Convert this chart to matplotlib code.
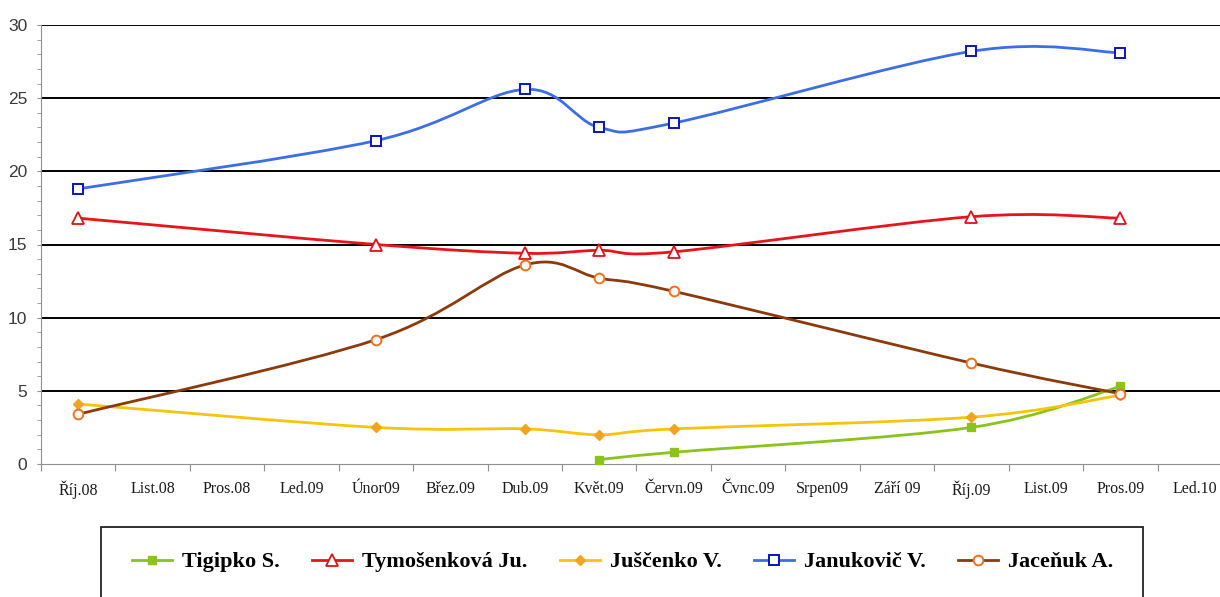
import numpy as np
import matplotlib.pyplot as plt
from matplotlib.path import Path
from matplotlib.patches import PathPatch, Rectangle
from matplotlib.lines import Line2D

months = ['Říj.08', 'List.08', 'Pros.08', 'Led.09', 'Únor09', 'Břez.09', 'Dub.09',
          'Květ.09', 'Červn.09', 'Čvnc.09', 'Srpen09', 'Září 09', 'Říj.09', 'List.09',
          'Pros.09', 'Led.10']

# survey months (index into months)
poll_idx = [0, 4, 6, 7, 8, 12, 14]
tigipko_idx = [7, 8, 12, 14]

tigipko = [0.3, 0.8, 2.5, 5.3]
tymosenkova = [16.8, 15.0, 14.4, 14.6, 14.5, 16.9, 16.8]
juscenko = [4.1, 2.5, 2.4, 2.0, 2.4, 3.2, 4.7]
janukovic = [18.8, 22.1, 25.6, 23.0, 23.3, 28.2, 28.1]
jacenuk = [3.4, 8.5, 13.6, 12.7, 11.8, 6.9, 4.8]


def smooth_path(x, y):
    # excel-like smoothed line: cubic bezier, tangent = (next - prev) / 6
    p = np.column_stack([x, y]).astype(float)
    n = len(p)
    verts = [p[0]]
    codes = [Path.MOVETO]
    for i in range(n - 1):
        prev = p[max(i - 1, 0)]
        nxt = p[min(i + 2, n - 1)]
        c1 = p[i] + (p[i + 1] - prev) / 6
        c2 = p[i + 1] - (nxt - p[i]) / 6
        verts += [c1, c2, p[i + 1]]
        codes += [Path.CURVE4] * 3
    return Path(verts, codes)


series = [
    ('Tigipko S.', tigipko_idx, tigipko, '#8cc21c', dict(marker='s', ms=6, mfc='#8cc21c', mec='#8cc21c')),
    ('Tymošenková Ju.', poll_idx, tymosenkova, '#e8141c', dict(marker='^', ms=8, mfc='white', mec='#e0101a', mew=1.3)),
    ('Juščenko V.', poll_idx, juscenko, '#f5c40f', dict(marker='D', ms=5.5, mfc='#f0a420', mec='#f0a420')),
    ('Janukovič V.', poll_idx, janukovic, '#3d6ee6', dict(marker='s', ms=7, mfc='white', mec='#0a14c0', mew=1.4)),
    ('Jaceňuk A.', poll_idx, jacenuk, '#8b3a0c', dict(marker='o', ms=7, mfc='white', mec='#f07020', mew=1.4)),
]

fig = plt.figure(figsize=(12.2, 5.97), dpi=100)
ax = fig.add_axes([41 / 1220, (597 - 464) / 597, (1232 - 41) / 1220, (464 - 25) / 597])

handles = []
for name, xi, yi, col, mk in series:
    ax.add_patch(PathPatch(smooth_path(xi, yi), fill=False, edgecolor=col, lw=2.0,
                           capstyle='round', joinstyle='round', zorder=3))
    ax.plot(xi, yi, linestyle='none', zorder=4, clip_on=False, **mk)
    handles.append(Line2D([], [], color=col, lw=2.0, **mk))

ax.set_xlim(-0.5, len(months) - 0.5)
ax.set_ylim(0, 30)

# horizontal grid
for v in range(5, 31, 5):
    ax.axhline(v, color='black', lw=1.4, zorder=1)

ax.set_yticks(range(0, 31, 5))
ax.set_yticks(range(0, 31), minor=True)
ax.tick_params(axis='y', which='both', length=3, color='#909090', labelsize=12.5,
               labelcolor='#3a3a3a', pad=7)
for t in ax.get_yticklabels():
    t.set_fontfamily('Liberation Sans')

ax.set_xticks(np.arange(-0.5, len(months), 1))
ax.set_xticklabels([])
ax.set_xticks(np.arange(len(months)), labels=months, minor=True)
ax.tick_params(axis='x', which='major', length=5, color='#909090')
ax.tick_params(axis='x', which='minor', length=0, pad=12, labelsize=11.5, labelcolor='#1a1a1a')
for t in ax.get_xticklabels(minor=True):
    t.set_fontfamily('Liberation Serif')

for s in ['top', 'right']:
    ax.spines[s].set_visible(False)
ax.spines['left'].set_color('#909090')
ax.spines['bottom'].set_color('#909090')

# legend box at the bottom
fig.patches.append(Rectangle((101 / 1220, -0.02), 1042 / 1220, (597 - 527) / 597 + 0.02,
                             transform=fig.transFigure, fill=False, edgecolor='#222222', lw=1.3))
fig.legend(handles=handles, labels=[s[0] for s in series], loc='center',
           bbox_to_anchor=(623 / 1220, (597 - 562) / 597), ncol=5, frameon=False,
           handlelength=1.8, handletextpad=0.45, columnspacing=1.45,
           prop={'family': 'Liberation Serif', 'weight': 'bold', 'size': 16})

fig.savefig('out.png', dpi=100)
